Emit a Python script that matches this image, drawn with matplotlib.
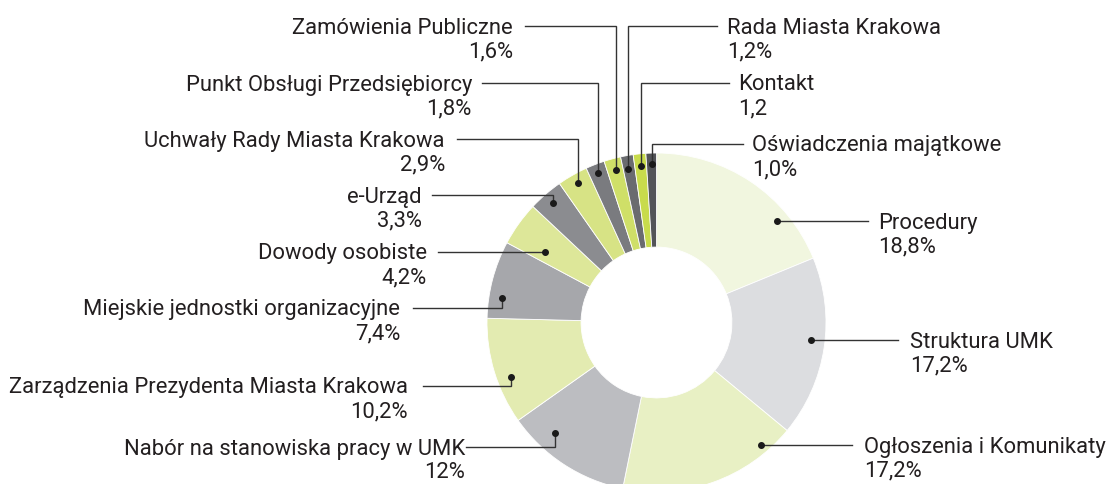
import matplotlib
matplotlib.use("Agg")
import matplotlib.pyplot as plt

W, H = 1107, 484

# data, clockwise from 12 o'clock
labels = ['Procedury', 'Struktura UMK', 'Ogłoszenia i Komunikaty',
          'Nabór na stanowiska pracy w UMK', 'Zarządzenia Prezydenta Miasta Krakowa',
          'Miejskie jednostki organizacyjne', 'Dowody osobiste', 'e-Urząd',
          'Uchwały Rady Miasta Krakowa', 'Punkt Obsługi Przedsiębiorcy',
          'Zamówienia Publiczne', 'Rada Miasta Krakowa', 'Kontakt',
          'Oświadczenia majątkowe']
values = [18.8, 17.2, 17.2, 12, 10.2, 7.4, 4.2, 3.3, 2.9, 1.8, 1.6, 1.2, 1.2, 1.0]
pct_labels = ['18,8%', '17,2%', '17,2%', '12%', '10,2%', '7,4%', '4,2%', '3,3%',
              '2,9%', '1,8%', '1,6%', '1,2%', '1,2', '1,0%']

colors = ['#f1f6df', '#dcdde0', '#e8f0c4', '#bcbdc1', '#e3ebb1', '#a6a7ab',
          '#dde799', '#8b8c90', '#d7e385', '#7a7b7f', '#cfdf68', '#6a6b6f',
          '#c8db4c', '#535458']

# leader layout in pixel coords (y down): dot x, dot y, line y, line end x, text x, side
leaders = [
    (777, 221, 221, 868, 878, 'left'),
    (811, 340, 340, 898, 910, 'left'),
    (761, 445, 445, 852, 864, 'left'),
    (555, 433, 447, 466, 465, 'right'),
    (511, 377, 386, 423, 408, 'right'),
    (502, 298, 308, 413, 400, 'right'),
    (545, 252, 252, 438, 427, 'right'),
    (553, 203, 195, 432, 422, 'right'),
    (578, 183, 139, 457, 445, 'right'),
    (598, 173, 83, 482, 472, 'right'),
    (616, 170, 26, 525, 513, 'right'),
    (628, 169, 26, 717, 727, 'left'),
    (641, 166, 83, 729, 738, 'left'),
    (652, 164, 144, 743, 752, 'left'),
]

cx, cy, R = 656.5, 322.5, 169.5
txt_color = '#231f20'
line_color = '#333333'

plt.rcParams['font.family'] = ['Roboto', 'DejaVu Sans']
fs = 15.8

fig = plt.figure(figsize=(W / 100, H / 100), dpi=100)
ax = fig.add_axes([0, 0, 1, 1])
ax.pie(values, colors=colors, startangle=90, counterclock=False,
       radius=R, center=(cx, H - cy),
       wedgeprops=dict(width=R * 0.555, edgecolor='white', linewidth=0.6))
ax.set_xlim(0, W)
ax.set_ylim(0, H)
ax.set_aspect('equal')
ax.axis('off')

for lab, pct, (dx, dy, ly, ex, tx, side) in zip(labels, pct_labels, leaders):
    xs = [dx, dx, ex]
    ys = [H - dy, H - ly, H - ly]
    ax.plot(xs, ys, color=line_color, lw=1.0, solid_joinstyle='miter')
    ax.plot(dx, H - dy, 'o', color='#1a1a1a', ms=4)
    ha = 'left' if side == 'left' else 'right'
    ax.text(tx, H - ly - 7.5, lab, ha=ha, va='baseline', fontsize=fs, color=txt_color)
    ax.text(tx, H - ly - 31, pct, ha=ha, va='baseline', fontsize=fs, color=txt_color)

fig.savefig('out.png', dpi=100)
